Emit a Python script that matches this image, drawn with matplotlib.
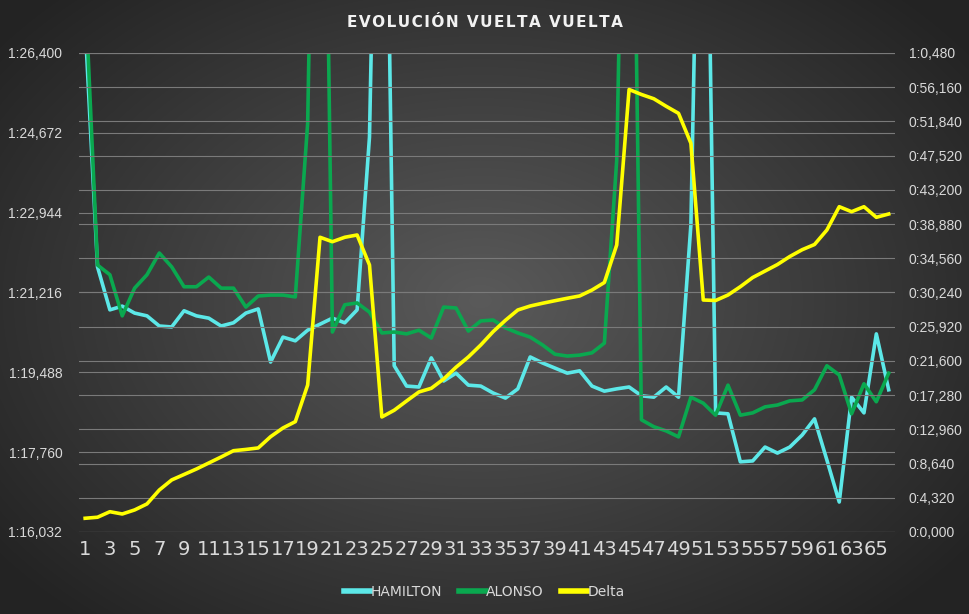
import matplotlib
matplotlib.use("Agg")
import matplotlib.pyplot as plt
from matplotlib.lines import Line2D
import numpy as np

laps = list(range(1, 67))

# lap times in seconds (left axis)
hamilton = [87.0, 81.77, 80.84, 80.92, 80.77, 80.71, 80.49, 80.47, 80.82, 80.71,
            80.66, 80.49, 80.56, 80.77, 80.86, 79.71, 80.25, 80.17, 80.40, 80.53,
            80.66, 80.56, 80.84, 84.58, 98.0, 79.63, 79.19, 79.17, 79.80, 79.30,
            79.47, 79.21, 79.19, 79.04, 78.93, 79.13, 79.82, 79.69, 79.58, 79.47,
            79.52, 79.19, 79.08, 79.13, 79.17, 78.98, 78.95, 79.17, 78.95, 82.68,
            96.5, 78.61, 78.59, 77.55, 77.57, 77.87, 77.74, 77.87, 78.13, 78.48,
            77.59, 76.68, 78.95, 78.61, 80.32, 79.11]
alonso = [87.8, 81.81, 81.60, 80.71, 81.31, 81.60, 82.07, 81.77, 81.34, 81.34,
          81.55, 81.31, 81.31, 80.90, 81.14, 81.16, 81.16, 81.12, 84.88, 100.0,
          80.36, 80.95, 80.99, 80.79, 80.34, 80.36, 80.32, 80.40, 80.23, 80.90,
          80.88, 80.38, 80.60, 80.62, 80.45, 80.34, 80.25, 80.08, 79.88, 79.84,
          79.86, 79.91, 80.12, 84.08, 98.0, 78.46, 78.31, 78.22, 78.09, 78.95,
          78.82, 78.56, 79.21, 78.56, 78.61, 78.74, 78.78, 78.87, 78.89, 79.11,
          79.63, 79.43, 78.59, 79.24, 78.85, 79.47]
# gap in seconds (right axis)
delta = [1.73, 1.86, 2.56, 2.27, 2.78, 3.54, 5.30, 6.57, 7.26, 7.95,
         8.71, 9.47, 10.26, 10.42, 10.61, 12.03, 13.13, 13.93, 18.56, 37.21,
         36.65, 37.21, 37.50, 33.71, 14.52, 15.37, 16.54, 17.68, 18.14, 19.32,
         20.80, 22.10, 23.61, 25.29, 26.73, 28.03, 28.53, 28.88, 29.20, 29.51,
         29.80, 30.55, 31.50, 36.24, 55.87, 55.24, 54.70, 53.75, 52.86, 49.08,
         29.29, 29.23, 29.92, 30.97, 32.13, 32.95, 33.77, 34.78, 35.64, 36.30,
         38.13, 41.07, 40.44, 41.07, 39.73, 40.15]

left_ticks = [76.032, 77.760, 79.488, 81.216, 82.944, 84.672, 86.400]
left_labels = ["1:16,032", "1:17,760", "1:19,488", "1:21,216",
               "1:22,944", "1:24,672", "1:26,400"]
right_ticks = [0.0, 4.32, 8.64, 12.96, 17.28, 21.6, 25.92, 30.24,
               34.56, 38.88, 43.2, 47.52, 51.84, 56.16, 60.48]
right_labels = ["0:0,000", "0:4,320", "0:8,640", "0:12,960", "0:17,280",
                "0:21,600", "0:25,920", "0:30,240", "0:34,560", "0:38,880",
                "0:43,200", "0:47,520", "0:51,840", "0:56,160", "1:0,480"]
x_ticks = list(range(1, 67, 2))

C_HAM = "#5ce8e8"
C_ALO = "#0aa84f"
C_DEL = "#ffff00"
TXT = "#d9d9d9"
GRID = "#7a7a7a"
NARROW = ["Liberation Sans Narrow", "DejaVu Sans"]
REG = ["Liberation Sans", "DejaVu Sans"]


def main():
    fig = plt.figure(figsize=(9.69, 6.14), dpi=100)

    # radial grey background
    bg = fig.add_axes([0, 0, 1, 1], zorder=-10)
    yy, xx = np.mgrid[0:614, 0:969]
    r = np.sqrt(((xx - 480) / 600.0) ** 2 + ((yy - 300) / 420.0) ** 2)
    r = np.clip(r, 0, 1)
    c0 = np.array([0x5a, 0x5a, 0x5a]) / 255.0
    c1 = np.array([0x24, 0x24, 0x24]) / 255.0
    img = c0[None, None, :] * (1 - r[..., None]) + c1[None, None, :] * r[..., None]
    bg.imshow(img, aspect="auto", extent=[0, 1, 0, 1])
    bg.axis("off")

    ax = fig.add_axes([0.0815, 0.1336, 0.842, 0.7801])
    ax.set_facecolor("none")
    ax2 = ax.twinx()

    ax.plot(laps, hamilton, color=C_HAM, lw=2.6, label="HAMILTON", solid_joinstyle="round")
    ax.plot(laps, alonso, color=C_ALO, lw=2.6, label="ALONSO", solid_joinstyle="round")
    ax2.plot(laps, delta, color=C_DEL, lw=2.6, label="Delta", solid_joinstyle="round")

    ax.set_xlim(0.5, 66.5)
    ax.set_ylim(left_ticks[0], left_ticks[-1])
    ax2.set_ylim(right_ticks[0], right_ticks[-1])

    ax.set_yticks(left_ticks)
    ax.set_yticklabels(left_labels, family=REG, fontsize=10)
    ax2.set_yticks(right_ticks)
    ax2.set_yticklabels(right_labels, family=REG, fontsize=10)
    ax.set_xticks(x_ticks)
    ax.set_xticklabels([str(i) for i in x_ticks], family=NARROW, fontsize=14)

    ax.grid(axis="y", color=GRID, lw=0.8)
    ax2.grid(axis="y", color=GRID, lw=0.8)
    ax.set_axisbelow(True)

    for a in (ax, ax2):
        for s in a.spines.values():
            s.set_visible(False)
        a.tick_params(length=0, colors=TXT)
    ax.tick_params(axis="y", pad=12)
    ax2.tick_params(axis="y", pad=10)
    ax.tick_params(axis="x", pad=6)

    title = "\u200a".join("EVOLUCIÓN VUELTA VUELTA")
    fig.text(0.5, 0.964, title,
             ha="center", va="center", color="#f2f2f2", fontsize=11,
             fontweight="bold", family=["DejaVu Sans"])

    handles = [Line2D([], [], color=C_HAM, lw=4),
               Line2D([], [], color=C_ALO, lw=4),
               Line2D([], [], color=C_DEL, lw=4)]
    fig.legend(handles, ["HAMILTON", "ALONSO", "Delta"], loc="center",
               bbox_to_anchor=(0.5, 0.036), ncol=3, frameon=False,
               handlelength=1.9, handletextpad=0.05, columnspacing=1.2,
               labelcolor=TXT, prop={"family": NARROW, "size": 10})

    fig.savefig("out.png", dpi=100)


if __name__ == "__main__":
    main()
